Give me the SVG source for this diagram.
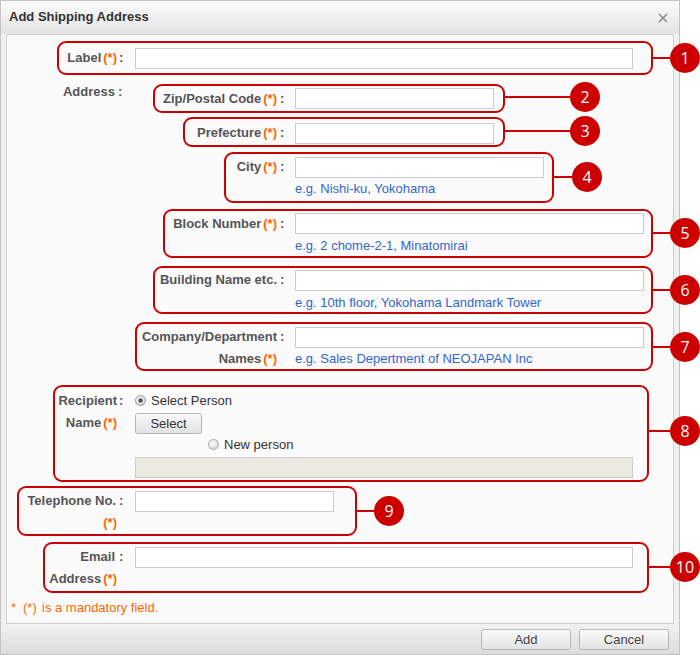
<svg xmlns="http://www.w3.org/2000/svg" width="700" height="655" viewBox="0 0 700 655">
<defs>
<linearGradient id="hdr" x1="0" y1="0" x2="0" y2="1"><stop offset="0" stop-color="#fbfbfb"/><stop offset="1" stop-color="#e4e4e4"/></linearGradient>
<linearGradient id="ftr" x1="0" y1="0" x2="0" y2="1"><stop offset="0" stop-color="#f2f2f2"/><stop offset="1" stop-color="#dcdcdc"/></linearGradient>
<linearGradient id="btn" x1="0" y1="0" x2="0" y2="1"><stop offset="0" stop-color="#fafafa"/><stop offset="1" stop-color="#e2e2e2"/></linearGradient>
<radialGradient id="rad" cx="0.4" cy="0.35" r="0.7"><stop offset="0" stop-color="#fff"/><stop offset="1" stop-color="#d0d0d0"/></radialGradient>
<style>
.lbl{font-family:"Liberation Sans",Arial,sans-serif;font-size:13px;font-weight:bold;fill:#555}
.ast{fill:#f60}
.hint{font-family:"Liberation Sans",Arial,sans-serif;font-size:13px;fill:#36c}
.note{font-family:"Liberation Sans",Arial,sans-serif;font-size:13px;fill:#f60}
.txt{font-family:"Liberation Sans",Arial,sans-serif;font-size:13px;fill:#333}
.inp{fill:#fff;stroke:#ccc;stroke-width:1}
.box{fill:none;stroke:#c00;stroke-width:2}
.con{stroke:#c00;stroke-width:2;fill:none}
.num{fill:#c00}
.numt{font-family:"Open Sans","DejaVu Sans",sans-serif;font-size:16px;fill:#fff;text-anchor:middle}
.btn{fill:url(#btn);stroke:#b5b5b5;stroke-width:1}
</style>
</defs>
<rect x="0" y="0" width="700" height="655" fill="#fff"/>
<g id="dialog">
<rect x="0.5" y="0.5" width="679" height="654" fill="#f0f0f0" stroke="#c4c4c4"/>
<rect x="1" y="1" width="678" height="33" fill="url(#hdr)"/>
<rect x="1" y="624" width="678" height="30" fill="url(#ftr)"/>
<rect x="6.5" y="34.5" width="667" height="589" fill="#fbfbfb" stroke="#cfcfcf"/>
<text x="9" y="21" font-family="Liberation Sans, Arial, sans-serif" font-size="13" font-weight="bold" fill="#333">Add Shipping Address</text>
<path d="M659 14 L667 22 M667 14 L659 22" stroke="#8a8a8a" stroke-width="1.6"/>
</g>
<g id="form">
<text class="lbl" x="117" y="62" text-anchor="end">Label<tspan class="ast" dx="2">(*)</tspan></text><text class="lbl" x="119" y="62">:</text>
<rect class="inp" x="135.5" y="48.5" width="497" height="20"/>
<text class="lbl" x="115" y="96" text-anchor="end">Address</text><text class="lbl" x="118" y="96">:</text>
<text class="lbl" x="277" y="103" text-anchor="end">Zip/Postal Code<tspan class="ast" dx="2">(*)</tspan></text><text class="lbl" x="280" y="103">:</text>
<rect class="inp" x="295.5" y="88.5" width="198" height="20"/>
<text class="lbl" x="277" y="137" text-anchor="end">Prefecture<tspan class="ast" dx="2">(*)</tspan></text><text class="lbl" x="280" y="137">:</text>
<rect class="inp" x="295.5" y="123.5" width="198" height="20"/>
<text class="lbl" x="277" y="171" text-anchor="end">City<tspan class="ast" dx="2">(*)</tspan></text><text class="lbl" x="280" y="171">:</text>
<rect class="inp" x="295.5" y="157.5" width="248" height="20"/>
<text class="hint" x="295" y="193">e.g. Nishi-ku, Yokohama</text>
<text class="lbl" x="277" y="228" text-anchor="end">Block Number<tspan class="ast" dx="2">(*)</tspan></text><text class="lbl" x="280" y="228">:</text>
<rect class="inp" x="295.5" y="213.5" width="348" height="20"/>
<text class="hint" x="295" y="250">e.g. 2 chome-2-1, Minatomirai</text>
<text class="lbl" x="277" y="284" text-anchor="end">Building Name etc.</text><text class="lbl" x="280" y="284">:</text>
<rect class="inp" x="295.5" y="270.5" width="348" height="20"/>
<text class="hint" x="295" y="307">e.g. 10th floor, Yokohama Landmark Tower</text>
<text class="lbl" x="277" y="341" text-anchor="end">Company/Department</text><text class="lbl" x="280" y="341">:</text>
<rect class="inp" x="295.5" y="327.5" width="348" height="20"/>
<text class="lbl" x="277" y="363" text-anchor="end">Names<tspan class="ast" dx="2">(*)</tspan></text>
<text class="hint" x="295" y="363">e.g. Sales Depertment of NEOJAPAN Inc</text>
<text class="lbl" x="117" y="405" text-anchor="end">Recipient</text><text class="lbl" x="119" y="405">:</text>
<circle cx="140.5" cy="400.5" r="5" fill="url(#rad)" stroke="#999"/>
<circle cx="140.5" cy="400.5" r="2.2" fill="#555"/>
<text class="txt" x="151" y="405">Select Person</text>
<text class="lbl" x="117" y="427" text-anchor="end">Name<tspan class="ast" dx="2">(*)</tspan></text>
<rect class="btn" x="135.5" y="413.5" width="66" height="20" rx="2"/>
<text class="txt" x="168.5" y="428" text-anchor="middle">Select</text>
<circle cx="213.5" cy="444.5" r="5" fill="url(#rad)" stroke="#aaa"/>
<text class="txt" x="224" y="449">New person</text>
<rect x="135.5" y="457.5" width="497" height="20" fill="#ebebe4" stroke="#ccc"/>
<text class="lbl" x="116" y="505" text-anchor="end">Telephone No.</text><text class="lbl" x="119" y="505">:</text>
<rect class="inp" x="135.5" y="491.5" width="198" height="20"/>
<text class="lbl" x="117" y="527" text-anchor="end" style="fill:#f60">(*)</text>
<text class="lbl" x="115" y="561" text-anchor="end">Email</text><text class="lbl" x="119" y="561">:</text>
<rect class="inp" x="135.5" y="547.5" width="497" height="20"/>
<text class="lbl" x="117" y="583" text-anchor="end">Address<tspan class="ast" dx="2">(*)</tspan></text>
<text class="note" y="612"><tspan x="11">*</tspan><tspan x="23">(*)</tspan><tspan x="42">is a mandatory field.</tspan></text>
<rect class="btn" x="481.5" y="629.5" width="89" height="20" rx="2"/>
<text class="txt" x="526" y="644" text-anchor="middle" style="fill:#444">Add</text>
<rect class="btn" x="579.5" y="629.5" width="89" height="20" rx="2"/>
<text class="txt" x="624" y="644" text-anchor="middle" style="fill:#444">Cancel</text>
</g>
<g id="connectors">
<line class="con" x1="652" y1="58" x2="671" y2="58"/>
<line class="con" x1="504" y1="97" x2="571" y2="97"/>
<line class="con" x1="504" y1="131" x2="571" y2="131"/>
<line class="con" x1="553" y1="177" x2="573" y2="177"/>
<line class="con" x1="652" y1="233" x2="671" y2="233"/>
<line class="con" x1="652" y1="290" x2="671" y2="290"/>
<line class="con" x1="652" y1="347" x2="671" y2="347"/>
<line class="con" x1="648" y1="431" x2="671" y2="431"/>
<line class="con" x1="356" y1="511" x2="375" y2="511"/>
<line class="con" x1="648" y1="567" x2="671" y2="567"/>
</g>
<g id="c1"><rect class="box" x="58" y="42" width="594" height="32" rx="8"/><circle class="num" cx="685" cy="58" r="15"/><text class="numt" x="685" y="64">1</text></g>
<g id="c2"><rect class="box" x="154" y="85" width="350" height="27" rx="8"/><circle class="num" cx="585" cy="97" r="15"/><text class="numt" x="585" y="103">2</text></g>
<g id="c3"><rect class="box" x="184" y="118" width="320" height="28" rx="8"/><circle class="num" cx="585" cy="131" r="15"/><text class="numt" x="585" y="137">3</text></g>
<g id="c4"><rect class="box" x="225" y="153" width="328" height="49" rx="8"/><circle class="num" cx="587" cy="177" r="15"/><text class="numt" x="587" y="183">4</text></g>
<g id="c5"><rect class="box" x="164" y="210" width="488" height="47" rx="8"/><circle class="num" cx="685" cy="233" r="15"/><text class="numt" x="685" y="239">5</text></g>
<g id="c6"><rect class="box" x="154" y="267" width="498" height="46" rx="8"/><circle class="num" cx="685" cy="290" r="15"/><text class="numt" x="685" y="296">6</text></g>
<g id="c7"><rect class="box" x="136" y="323" width="516" height="47" rx="8"/><circle class="num" cx="685" cy="347" r="15"/><text class="numt" x="685" y="353">7</text></g>
<g id="c8"><rect class="box" x="54" y="386" width="594" height="95" rx="8"/><circle class="num" cx="685" cy="431" r="15"/><text class="numt" x="685" y="437">8</text></g>
<g id="c9"><rect class="box" x="18" y="487" width="338" height="48" rx="8"/><circle class="num" cx="389" cy="511" r="15"/><text class="numt" x="389" y="517">9</text></g>
<g id="c10"><rect class="box" x="44" y="543" width="604" height="49" rx="8"/><circle class="num" cx="685" cy="567" r="15"/><text class="numt" x="685" y="573">10</text></g>
</svg>
